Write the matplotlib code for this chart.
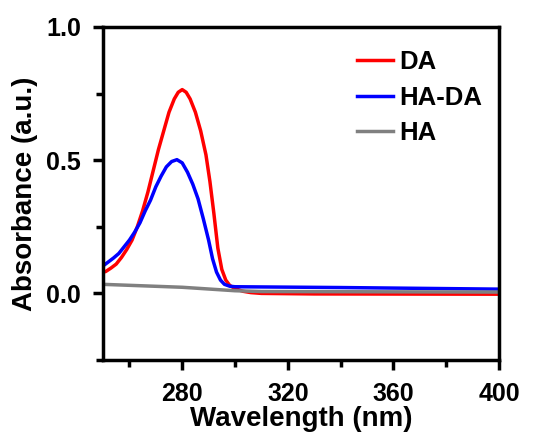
import matplotlib
matplotlib.use("Agg")
import matplotlib.pyplot as plt

plt.rcParams['font.family'] = ['Liberation Sans', 'DejaVu Sans']
plt.rcParams['font.weight'] = 'bold'

# DA spectrum (red)
da_wl = [250, 251, 253, 255, 257, 259, 261, 263, 265, 267, 269, 271, 273, 275, 277,
         278.5, 280, 281.5, 283, 285, 287, 289, 290.5, 292, 293.5, 295, 296.5, 298,
         300, 303, 306, 310, 330, 400]
da_abs = [0.08, 0.082, 0.095, 0.11, 0.135, 0.165, 0.2, 0.25, 0.31, 0.38, 0.46, 0.54,
          0.61, 0.68, 0.73, 0.755, 0.765, 0.755, 0.73, 0.68, 0.61, 0.52, 0.42, 0.30,
          0.17, 0.09, 0.05, 0.03, 0.018, 0.008, 0.003, 0.0, -0.002, -0.003]

# HA-DA spectrum (blue)
hada_wl = [250, 252, 254, 256, 258, 260, 262, 264, 266, 268, 270, 272, 274, 276, 278,
           280, 282, 284, 286, 288, 290, 291.5, 293, 294.5, 296, 298, 300, 340, 400]
hada_abs = [0.103, 0.118, 0.133, 0.15, 0.175, 0.2, 0.23, 0.265, 0.31, 0.35, 0.4, 0.44,
            0.475, 0.495, 0.502, 0.49, 0.455, 0.41, 0.355, 0.28, 0.2, 0.13, 0.08, 0.05,
            0.034, 0.027, 0.025, 0.022, 0.016]

# HA spectrum (gray)
ha_wl = [250, 280, 300, 310, 400]
ha_abs = [0.034, 0.023, 0.01, 0.007, 0.005]

fig = plt.figure(figsize=(5.44, 4.34), dpi=100)
ax = fig.add_axes([103/544, 1 - 360/434, (499-103)/544, (360-27)/434])

ax.plot(da_wl, da_abs, color='#ff0000', lw=2.5, label='DA')
ax.plot(hada_wl, hada_abs, color='#0000ff', lw=2.5, label='HA-DA')
ax.plot(ha_wl, ha_abs, color='#808080', lw=2.5, label='HA')

ax.set_xlim(250, 400)
ax.set_ylim(-0.25, 1.0)
ax.set_xticks([280, 320, 360, 400])
ax.set_xticks([260, 300, 340, 380], minor=True)
ax.set_yticks([0.0, 0.5, 1.0])
ax.set_yticks([-0.25, 0.25, 0.75], minor=True)
ax.set_yticklabels(['0.0', '0.5', '1.0'])

for s in ax.spines.values():
    s.set_linewidth(2.5)
ax.tick_params(which='major', direction='out', length=7, width=2.5, labelsize=18, pad=9)
ax.tick_params(which='minor', direction='out', length=5, width=2.5)

ax.set_xlabel('Wavelength (nm)', fontsize=20, fontweight='bold', labelpad=0)
ax.set_ylabel('Absorbance (a.u.)', fontsize=20, fontweight='bold', labelpad=6)

leg = ax.legend(loc='upper left', bbox_to_anchor=(0.641, 0.93), frameon=False,
                fontsize=18.5, handlelength=1.4, handletextpad=0.27, labelspacing=0.45,
                borderpad=0, borderaxespad=0)

fig.savefig('out.png', dpi=100)
